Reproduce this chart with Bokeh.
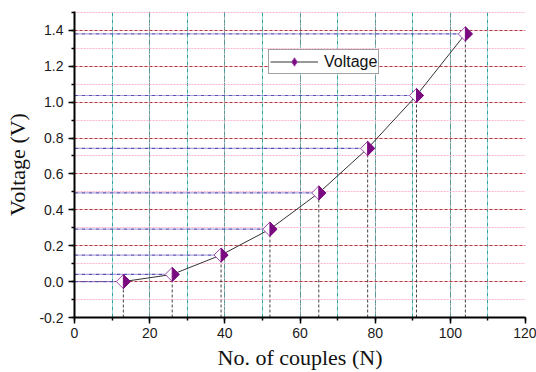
import math
from bokeh.plotting import figure
from bokeh.models import (Range1d, SingleIntervalTicker, NumeralTickFormatter,
                          Legend, LegendItem)
from bokeh.embed import file_html
from bokeh.resources import INLINE

# ---- data ----
couples = [13, 26, 39, 52, 65, 78, 91, 104]
voltage = [0.0, 0.04, 0.148, 0.292, 0.494, 0.742, 1.037, 1.38]
series_name = "Voltage"
x_label = "No. of couples (N)"
y_label = "Voltage (V)"

X0, X1 = 0, 120
Y0, Y1 = -0.2, 1.505

W, H = 536, 372
BL, BR, BT, BB = 74, 11, 11, 54
frame_w = W - BL - BR
frame_h = H - BT - BB

p = figure(width=W, height=H, output_backend="svg", toolbar_location=None,
           x_range=Range1d(X0, X1), y_range=Range1d(Y0, Y1),
           min_border_left=BL, min_border_right=BR, min_border_top=BT,
           min_border_bottom=BB, background_fill_color="white",
           border_fill_color="white")
p.outline_line_color = None

# axes
p.xaxis.ticker = SingleIntervalTicker(interval=20, num_minor_ticks=2)
p.yaxis.ticker = SingleIntervalTicker(interval=0.2, num_minor_ticks=2)
p.yaxis.formatter = NumeralTickFormatter(format="0.0")
for ax in (p.xaxis[0], p.yaxis[0]):
    ax.axis_line_width = 2
    ax.axis_line_color = "black"
    ax.major_tick_line_color = "black"
    ax.minor_tick_line_color = "black"
    ax.major_tick_line_width = 1.5
    ax.minor_tick_line_width = 1.5
    ax.major_tick_out = 6
    ax.major_tick_in = 0
    ax.minor_tick_out = 3
    ax.minor_tick_in = 0
    ax.major_label_text_font = "Liberation Sans"
    ax.major_label_text_font_size = "14px"
    ax.major_label_text_color = "#1a1a1a"
    ax.axis_label_text_font = "Liberation Serif"
    ax.axis_label_text_font_size = "22px"
    ax.axis_label_text_font_style = "normal"
    ax.axis_label_text_color = "#111111"
p.xaxis.axis_label = x_label
p.yaxis.axis_label = y_label
p.yaxis.major_label_standoff = 5
p.xaxis.major_label_standoff = 4
p.yaxis.axis_label_standoff = 6
p.xaxis.axis_label_standoff = 4

# grids
p.xgrid.grid_line_color = "#8a8a8a"
p.xgrid.grid_line_dash = "2 2"
p.xgrid.grid_line_width = 1
p.xgrid.minor_grid_line_color = "#2aa3a3"
p.xgrid.minor_grid_line_dash = "4 1 1 1"
p.xgrid.minor_grid_line_width = 1
p.ygrid.grid_line_color = "#b23a3a"
p.ygrid.grid_line_dash = "3 2"
p.ygrid.grid_line_width = 1
p.ygrid.minor_grid_line_color = "#ffb6d5"
p.ygrid.minor_grid_line_dash = "2 1"
p.ygrid.minor_grid_line_width = 1

# drop lines
p.segment(x0=[X0] * len(couples), y0=voltage, x1=couples, y1=voltage,
          line_color="#5a4db5", line_dash="4 1 1 1", line_width=1.2)
p.segment(x0=couples, y0=[Y0] * len(couples), x1=couples, y1=voltage,
          line_color="#444444", line_dash="3 2", line_width=1)

# connecting line
ln = p.line(couples, voltage, line_color="#333333", line_width=1)

MARK_LINE = "#a04ab0"
MARK_FILL = "#7a0a80"

# legend symbol (sits hidden inside the plotted diamonds)
leg_sym = p.scatter(couples, voltage, marker="diamond", size=8,
                    fill_color=MARK_FILL, line_color=MARK_LINE, line_width=1)
# white diamond with purple outline
dia = p.scatter(couples, voltage, marker="square", angle=math.pi / 4,
                size=10, fill_color="white", line_color=MARK_LINE, line_width=1)
# right half filled (pixel size converted to data units)
px_x = (X1 - X0) / frame_w
px_y = (Y1 - Y0) / frame_h
hw, hh = 7.07 * px_x, 7.07 * px_y
half_xs = [[x, x + hw, x] for x in couples]
half_ys = [[y + hh, y, y - hh] for y in voltage]
p.patches(half_xs, half_ys, fill_color=MARK_FILL, line_color=MARK_FILL, line_width=1)

# legend
legend = Legend(items=[LegendItem(label=series_name, renderers=[ln, leg_sym])],
                location=(194, 243), orientation="vertical")
legend.label_text_font = "Liberation Sans"
legend.label_text_font_size = "16px"
legend.label_text_color = "#111111"
legend.glyph_width = 48
legend.glyph_height = 21
legend.label_height = 20
legend.label_standoff = 6
legend.padding = 1
legend.margin = 0
legend.spacing = 0
legend.border_line_color = "#444444"
legend.border_line_width = 1.5
legend.background_fill_color = "white"
legend.background_fill_alpha = 1
p.add_layout(legend, "center")

open("out.html", "w").write(file_html(p, INLINE))
